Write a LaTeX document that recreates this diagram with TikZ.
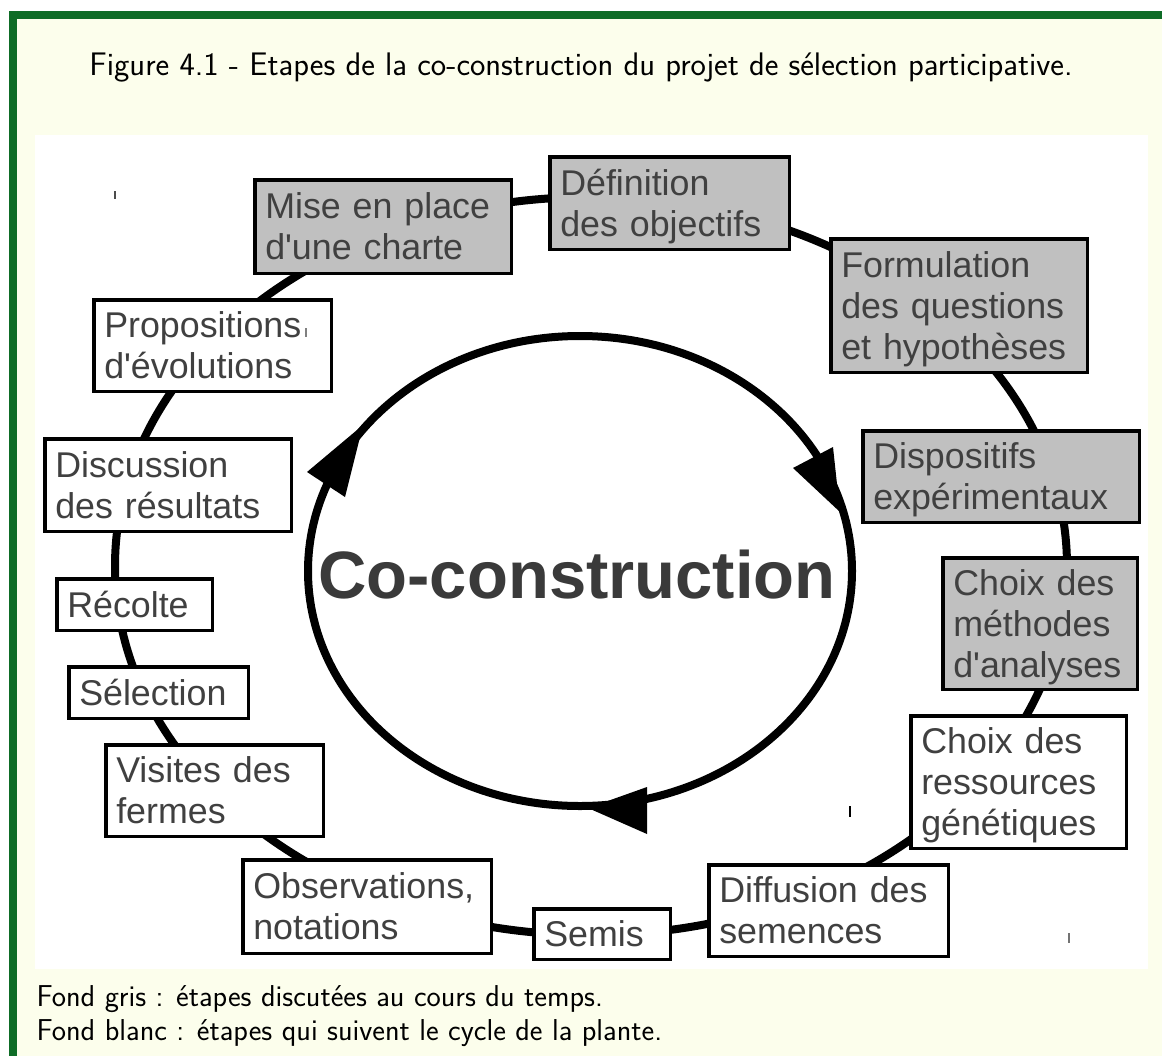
\documentclass[tikz,border=0pt]{standalone}
\usepackage{fontspec}
\newfontfamily\arialf{Liberation Sans}[Ligatures=TeXOff]
\definecolor{bgyellow}{RGB}{252,254,236}
\definecolor{frgreen}{RGB}{14,108,38}
\definecolor{boxgray}{RGB}{192,192,192}
\definecolor{txtgray}{RGB}{64,64,64}
\definecolor{cotxt}{RGB}{58,58,58}
\newcommand\bxstrut{\vrule width 0pt height 33pt depth 8pt}
\newcommand\bl[1]{\mbox{\bxstrut #1}}
\newcommand\mkstep[7]{%
  \pgfmathsetmacro\bw{#4-#2-3.5}\pgfmathsetmacro\bh{#5-#3-3.5}%
  \pgfmathsetmacro\tw{#4-#2-24.5}%
  \pgfmathsetmacro\cx{(#2+#4)/2}\pgfmathsetmacro\cy{(#3+#5)/2}%
  \node[boxst, fill=#6, minimum width=\bw pt, minimum height=\bh pt, text width=\tw pt] (#1) at (\cx,\cy) {#7};}
\begin{document}
\begin{tikzpicture}[x=1pt,y=-1pt,
  boxst/.style={draw=black, line width=3.5pt, rectangle, inner xsep=10.5pt, inner ysep=0pt, outer sep=0pt,
    align=left, text=txtgray, font=\arialf\fontsize{35.8}{41}\selectfont},
  ringline/.style={line width=8pt, black},
  tick/.style={line width=1.6pt},
  notest/.style={anchor=base west, font=\sffamily\fontsize{30.2}{36}\selectfont}]
\useasboundingbox (0,0) rectangle (1162,1055);
\clip (0,0) rectangle (1162,1055);
\fill[white] (0,0) rectangle (1162,1055);
\fill[bgyellow] (13,15) rectangle (1200,1100);
\draw[frgreen, line width=8pt] (13,15) rectangle (1200,1100);
\fill[white] (35,135) rectangle (1148,969);
\node[anchor=base, font=\sffamily\fontsize{32.6}{38}\selectfont] (cap) at (581,75)
  {Figure 4.1 - Etapes de la co-construction du projet de sélection participative.};
% outer ring
\draw[ringline] (591,566) ellipse [x radius=476, y radius=369];
% inner cycle
\draw[ringline] (580,571) ellipse [x radius=272, y radius=235];
\fill (363,425) -- (307,472) -- (345,497) -- cycle;
\fill (793,468) -- (833,447) -- (840,512) -- cycle;
\fill (588,808) -- (647,787) -- (647,834) -- cycle;
\node[anchor=base, text=cotxt, font=\arialf\bfseries\fontsize{67}{80}\selectfont] (co) at (577,598) {Co-construction};
% steps
\mkstep{mise}{253}{178}{513}{275}{boxgray}{\bl{Mise en place}\\\bl{d'une charte}}
\mkstep{def}{548}{155}{791}{251}{boxgray}{\bl{Définition}\\\bl{des objectifs}}
\mkstep{form}{829}{237}{1089}{374}{boxgray}{\bl{Formulation}\\\bl{des questions}\\\bl{et hypothèses}}
\mkstep{disp}{861}{429}{1141}{524}{boxgray}{\bl{Dispositifs}\\\bl{expérimentaux}}
\mkstep{meth}{941}{556}{1139}{691}{boxgray}{\bl{Choix des}\\\bl{méthodes}\\\bl{d'analyses}}
\mkstep{ress}{909}{714}{1128}{850}{white}{\bl{Choix des}\\\bl{ressources}\\\bl{génétiques}}
\mkstep{diff}{707}{863}{950}{958}{white}{\bl{Diffusion des}\\\bl{semences}}
\mkstep{semis}{532}{907}{672}{961}{white}{\bl{Semis}}
\mkstep{obs}{241}{858}{493}{955}{white}{\bl{Observations,}\\\bl{notations}}
\mkstep{vis}{104}{743}{325}{838}{white}{\bl{Visites des}\\\bl{fermes}}
\mkstep{sel}{67}{665}{250}{720}{white}{\bl{Sélection}}
\mkstep{rec}{55}{577}{214}{632}{white}{\bl{Récolte}}
\mkstep{disc}{43}{437}{293}{533}{white}{\bl{Discussion}\\\bl{des résultats}}
\mkstep{prop}{92}{298}{333}{393}{white}{\bl{Propositions}\\\bl{d'évolutions}}
% stray marks
\draw[tick, black!70] (115,191) -- (115,199);
\draw[tick, black!50] (306,328) -- (306,337);
\draw[tick, black] (850,806) -- (850,817);
\draw[tick, black!55] (1069,933) -- (1069,943);
% notes
\node[notest] (note1) at (33,1006) {Fond gris : étapes discutées au cours du temps.};
\node[notest] (note2) at (33,1040) {Fond blanc : étapes qui suivent le cycle de la plante.};
\end{tikzpicture}
\end{document}
